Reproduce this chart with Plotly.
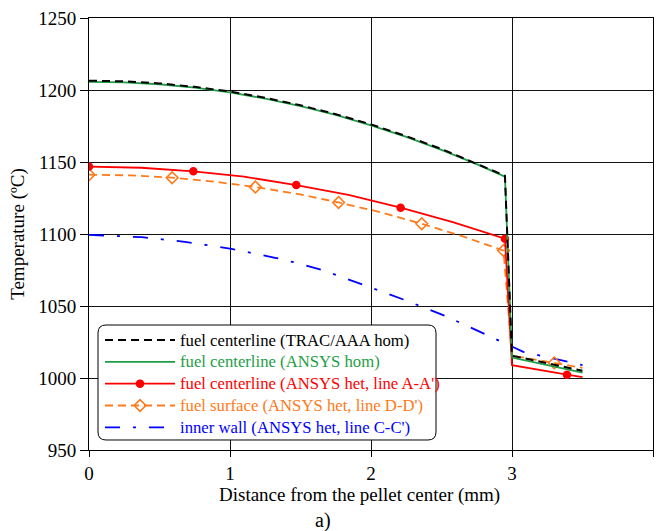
import plotly.graph_objects as go

# ---------------- data ----------------
x_trac = [0, 0.25, 0.5, 0.75, 1.0, 1.25, 1.5, 1.75, 2.0, 2.25, 2.5, 2.75, 2.95, 3.0, 3.5]
t_trac = [1206.5, 1206.0, 1204.6, 1202.2, 1198.9, 1194.6, 1189.4, 1183.2, 1176.1,
          1168.0, 1159.0, 1149.0, 1140.5, 1015.5, 1005.0]

x_hom = [0, 0.25, 0.5, 0.75, 1.0, 1.25, 1.5, 1.75, 2.0, 2.25, 2.5, 2.75, 2.95, 3.0, 3.5]
t_hom = [1205.7, 1205.3, 1204.0, 1201.6, 1198.3, 1194.0, 1188.8, 1182.7, 1175.5,
         1167.4, 1158.4, 1148.5, 1139.8, 1014.2, 1003.8]

x_het_center = [0, 0.37, 0.74, 1.1, 1.47, 1.84, 2.21, 2.58, 2.95, 3.0, 3.39, 3.5]
t_het_center = [1146.8, 1146.0, 1143.5, 1139.8, 1134.0, 1127.2, 1118.3, 1108.3,
                 1096.7, 1008.9, 1002.3, 1000.6]
het_center_marker_idx = [0, 2, 4, 6, 8, 10]

x_het_surface = [0, 0.295, 0.59, 0.885, 1.18, 1.475, 1.77, 2.065, 2.36, 2.65, 2.94, 3.0, 3.30, 3.5]
t_het_surface = [1141.2, 1140.7, 1139.1, 1136.4, 1132.6, 1127.9, 1121.9, 1115.2,
                 1107.1, 1098.4, 1088.5, 1015.5, 1010.5, 1007.0]
het_surface_marker_idx = [0, 2, 4, 6, 8, 10, 12]

x_wall = [0, 0.375, 0.68, 1.01, 1.32, 1.47, 1.66, 1.93, 2.23, 2.53, 2.82, 2.97, 3.08, 3.5]
t_wall = [1099.4, 1097.8, 1094.6, 1089.7, 1083.5, 1080.0, 1074.9, 1065.4, 1054.5,
          1043.0, 1030.2, 1023.3, 1018.2, 1009.0]

legend_names = [
    "fuel centerline (TRAC/AAA hom)",
    "fuel centerline (ANSYS hom)",
    "fuel centerline (ANSYS het, line A-A')",
    "fuel surface (ANSYS het, line D-D')",
    "inner wall (ANSYS het, line C-C')",
]
y_ticks = [950, 1000, 1050, 1100, 1150, 1200, 1250]
x_ticks = [0, 1, 2, 3, 4]

# ---------------- styles ----------------
FONT = "Liberation Serif"
C_BLACK = "#000000"
C_GREEN = "#1E9E46"
C_RED = "#FF0000"
C_ORANGE = "#FF7A1A"
C_BLUE = "#0000FF"
DASH = "8px,5px"
DASHDOT = "15px,13px,3px,13px"

fig = go.Figure()

# curves (drawn bottom to top)
fig.add_trace(go.Scatter(x=x_wall, y=t_wall, mode="lines", showlegend=False,
                         line=dict(color=C_BLUE, width=1.8, dash=DASHDOT)))
fig.add_trace(go.Scatter(x=x_het_surface, y=t_het_surface, mode="lines", showlegend=False,
                         line=dict(color=C_ORANGE, width=1.8, dash=DASH)))
fig.add_trace(go.Scatter(x=[x_het_surface[i] for i in het_surface_marker_idx],
                         y=[t_het_surface[i] for i in het_surface_marker_idx],
                         mode="markers", showlegend=False,
                         marker=dict(symbol="diamond-open", size=9, color=C_ORANGE,
                                     line=dict(width=1.6, color=C_ORANGE))))
fig.add_trace(go.Scatter(x=x_het_center, y=t_het_center, mode="lines", showlegend=False,
                         line=dict(color=C_RED, width=1.8)))
fig.add_trace(go.Scatter(x=[x_het_center[i] for i in het_center_marker_idx],
                         y=[t_het_center[i] for i in het_center_marker_idx],
                         mode="markers", showlegend=False,
                         marker=dict(symbol="circle", size=7, color=C_RED,
                                     line=dict(width=1.5, color=C_RED))))
fig.add_trace(go.Scatter(x=x_hom, y=t_hom, mode="lines", showlegend=False,
                         line=dict(color=C_GREEN, width=1.8)))
fig.add_trace(go.Scatter(x=x_trac, y=t_trac, mode="lines", showlegend=False,
                         line=dict(color=C_BLACK, width=2, dash=DASH)))

# legend entries
legend_styles = [
    dict(mode="lines", line=dict(color=C_BLACK, width=2, dash=DASH)),
    dict(mode="lines", line=dict(color=C_GREEN, width=1.8)),
    dict(mode="lines+markers", line=dict(color=C_RED, width=1.8),
         marker=dict(symbol="circle", size=7, color=C_RED, line=dict(width=1.5, color=C_RED))),
    dict(mode="lines+markers", line=dict(color=C_ORANGE, width=1.8, dash=DASH),
         marker=dict(symbol="diamond-open", size=9, color=C_ORANGE, line=dict(width=1.6, color=C_ORANGE))),
    dict(mode="lines", line=dict(color=C_BLUE, width=1.8, dash=DASHDOT)),
]
legend_colors = [C_BLACK, C_GREEN, C_RED, C_ORANGE, C_BLUE]
for name, st, col in zip(legend_names, legend_styles, legend_colors):
    fig.add_trace(go.Scatter(x=[None], y=[None],
                             name=f'<span style="color:{col};font-size:16.7px">{name}</span>',
                             showlegend=True, **st))

# ---------------- layout ----------------
W, H = 656, 531
ML, MR, MT, MB = 89, 3, 18, 81
PW, PH = W - ML - MR, H - MT - MB


def px2paper(px, py):
    return (px - ML) / PW, (H - MB - py) / PH


# rounded legend frame (pixel box -> paper)
bx0, by0, bx1, by1, r = 98, 325, 436, 440, 8


def P(px, py):
    x, y = px2paper(px, py)
    return f"{x:.5f},{y:.5f}"


path = (f"M {P(bx0 + r, by0)} L {P(bx1 - r, by0)} Q {P(bx1, by0)} {P(bx1, by0 + r)} "
        f"L {P(bx1, by1 - r)} Q {P(bx1, by1)} {P(bx1 - r, by1)} "
        f"L {P(bx0 + r, by1)} Q {P(bx0, by1)} {P(bx0, by1 - r)} "
        f"L {P(bx0, by0 + r)} Q {P(bx0, by0)} {P(bx0 + r, by0)} Z")

lx, ly = px2paper(100, 324)
fig.update_layout(
    width=W, height=H,
    margin=dict(l=ML, r=MR, t=MT, b=MB, pad=0),
    paper_bgcolor="white", plot_bgcolor="white",
    font=dict(family=FONT, size=19, color="black"),
    showlegend=True,
    legend=dict(x=lx, y=ly, xanchor="left", yanchor="top",
                bgcolor="rgba(0,0,0,0)", borderwidth=0,
                font=dict(family=FONT, size=14.5),
                itemwidth=70, tracegroupgap=0),
    shapes=[dict(type="path", path=path, xref="paper", yref="paper",
                 line=dict(color="black", width=1), fillcolor="white", layer="above")],
    annotations=[
        dict(text="Distance from the pellet center (mm)", xref="paper", yref="paper",
             x=px2paper(359, 0)[0], y=px2paper(0, 495)[1], showarrow=False,
             font=dict(family=FONT, size=19), xanchor="center", yanchor="middle"),
        dict(text="a)", xref="paper", yref="paper",
             x=px2paper(323, 0)[0], y=px2paper(0, 520)[1], showarrow=False,
             font=dict(family=FONT, size=20), xanchor="center", yanchor="middle"),
    ],
)
fig.update_xaxes(range=[0, 4], tickvals=x_ticks, ticktext=[str(v) for v in x_ticks],
                 showgrid=True, gridcolor="#111111", gridwidth=1,
                 showline=True, linecolor="black", linewidth=1, mirror=True,
                 ticks="outside", ticklen=6, tickcolor="black", zeroline=False,
                 tickfont=dict(family=FONT, size=19))
fig.update_yaxes(range=[950, 1250], tickvals=y_ticks, ticktext=[str(v) for v in y_ticks],
                 showgrid=True, gridcolor="#111111", gridwidth=1,
                 showline=True, linecolor="black", linewidth=1, mirror=True,
                 ticks="outside", ticklen=8, tickcolor="black", zeroline=False,
                 tickfont=dict(family=FONT, size=19),
                 title=dict(text="Temperature (ºC)", font=dict(family=FONT, size=19), standoff=8))

fig.write_html("out.html")
